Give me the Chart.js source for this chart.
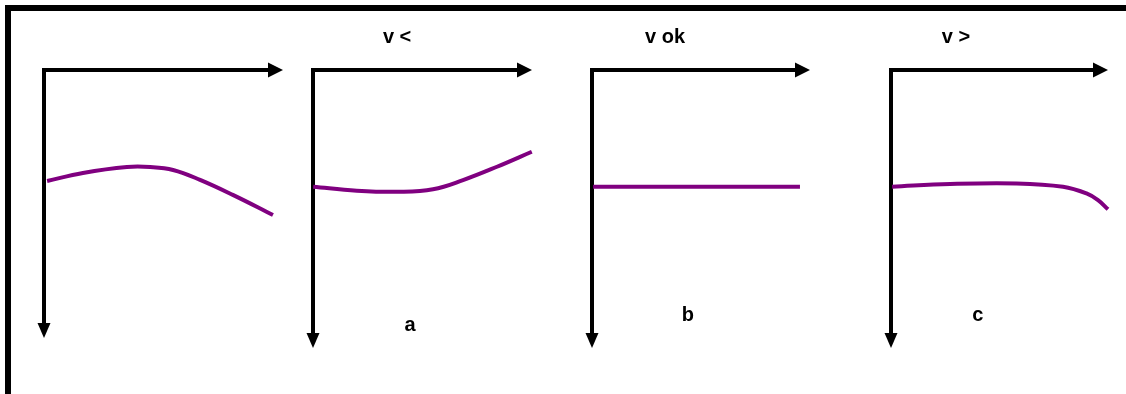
<!DOCTYPE html>
<html>
<head>
<meta charset="utf-8">
<script src="https://cdn.jsdelivr.net/npm/chart.js@4/dist/chart.umd.min.js"></script>
<style>
  body { margin: 0; background: #fff; width: 1126px; height: 394px; overflow: hidden; position: relative; }
  #frame { position: absolute; left: 5px; top: 5px; right: 0; bottom: -10px; border-top: 6px solid #000; border-left: 6px solid #000; }
  canvas { position: absolute; top: 0; }
</style>
</head>
<body>
<div id="frame"></div>
<canvas id="p1"></canvas>
<canvas id="p2"></canvas>
<canvas id="p3"></canvas>
<canvas id="p4"></canvas>
<script>
// Daten (x = Anteil der Achsenlänge in %, y = Tiefe nach unten in %)
const topLabels = ['', 'v <', 'v ok', 'v >'];
const bottomLabels = ['', 'a', 'b', 'c'];

const xBase = [1.3, 16.3, 34.7, 44.4, 54, 65.3, 79, 95.8];
const yBase = [41.4, 38.4, 36.2, 36.2, 37.3, 41, 46.6, 54.1];

const xA = [0.1, 20, 39.7, 54.8, 68.5, 84, 99.9];
const yA = [42, 43.4, 43.8, 42.9, 39.6, 34.8, 29.4];

const xB = [0.5, 95.4];
const yB = [42, 42];

const xC = [0.5, 27.3, 57.9, 79.3, 90.1, 95.4, 100];
const yC = [42, 41, 40.8, 42, 44.4, 46.8, 50.1];

// Layout der vier Felder (Pixel)
const panels = [
  { id: 'p1', axisX: 44, tip: 283, bottom: 338, xs: xBase, ys: yBase, topPos: 0, botPos: 0 },
  { id: 'p2', axisX: 313, tip: 532, bottom: 348, xs: xA, ys: yA, topPos: 38.4, botPos: 44.3 },
  { id: 'p3', axisX: 592, tip: 810, bottom: 348, xs: xB, ys: yB, topPos: 33.5, botPos: 44 },
  { id: 'p4', axisX: 891, tip: 1108, bottom: 348, xs: xC, ys: yC, topPos: 29.9, botPos: 40 }
];
const axisTop = 70;

// Plugin: Achsen mit Pfeilspitzen und Beschriftungen
const arrowAxes = {
  id: 'arrowAxes',
  beforeDatasetsDraw(chart, args, opts) {
    const { ctx, chartArea: a } = chart;
    ctx.save();
    ctx.strokeStyle = '#000';
    ctx.fillStyle = '#000';
    ctx.lineWidth = 4;
    ctx.lineJoin = 'miter';
    ctx.beginPath();
    ctx.moveTo(a.right - 12, a.top);
    ctx.lineTo(a.left, a.top);
    ctx.lineTo(a.left, a.bottom - 12);
    ctx.stroke();
    // Pfeil rechts
    ctx.beginPath();
    ctx.moveTo(a.right, a.top);
    ctx.lineTo(a.right - 15, a.top - 7.5);
    ctx.lineTo(a.right - 15, a.top + 7.5);
    ctx.closePath();
    ctx.fill();
    // Pfeil unten
    ctx.beginPath();
    ctx.moveTo(a.left, a.bottom);
    ctx.lineTo(a.left - 6.5, a.bottom - 15);
    ctx.lineTo(a.left + 6.5, a.bottom - 15);
    ctx.closePath();
    ctx.fill();

    ctx.font = 'bold 20px "Liberation Sans", Arial, sans-serif';
    ctx.textAlign = 'center';
    ctx.textBaseline = 'middle';
    const xs = chart.scales.x;
    if (opts.top) ctx.fillText(opts.top, xs.getPixelForValue(opts.topPos), 37);
    if (opts.bottom) ctx.fillText(opts.bottom, xs.getPixelForValue(opts.botPos), opts.botY);
    ctx.restore();
  }
};

panels.forEach((p, i) => {
  const canvas = document.getElementById(p.id);
  const pad = 20;
  canvas.width = p.tip - p.axisX + 2 * pad;
  canvas.height = 394;
  canvas.style.left = (p.axisX - pad) + 'px';

  const points = p.xs.map((x, k) => ({ x: x, y: p.ys[k] }));

  new Chart(canvas.getContext('2d'), {
    type: 'line',
    data: {
      datasets: [{
        data: points,
        borderColor: '#800080',
        borderWidth: 4,
        pointRadius: 0,
        tension: 0.4,
        clip: false,
        fill: false
      }]
    },
    options: {
      responsive: false,
      animation: false,
      layout: { padding: { left: pad, right: pad, top: axisTop, bottom: 394 - p.bottom } },
      scales: {
        x: { type: 'linear', min: 0, max: 100, display: false },
        y: { min: 0, max: 100, reverse: true, display: false }
      },
      plugins: {
        legend: { display: false },
        tooltip: { enabled: false },
        arrowAxes: { top: topLabels[i], bottom: bottomLabels[i], topPos: p.topPos, botPos: p.botPos, botY: i === 1 ? 325 : 315 }
      }
    },
    plugins: [arrowAxes]
  });
});
</script>
</body>
</html>
